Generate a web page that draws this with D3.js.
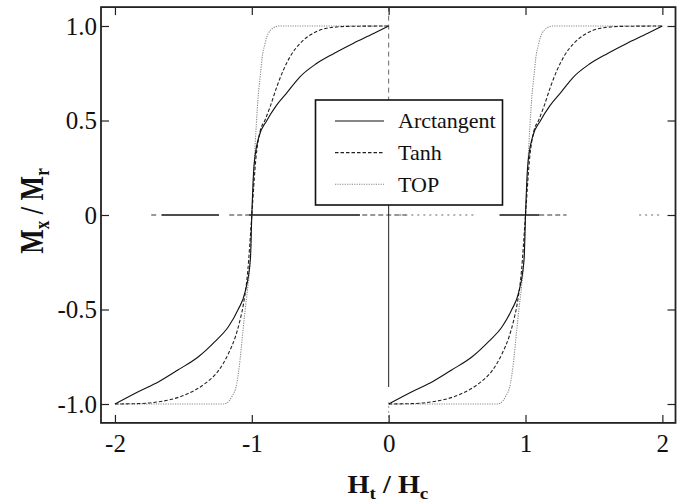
<!DOCTYPE html>
<html>
<head>
<meta charset="utf-8">
<script src="https://cdn.jsdelivr.net/npm/d3@7"></script>
<style>
  html, body { margin: 0; padding: 0; background: #fff; }
  svg { display: block; }
  text { font-family: "Liberation Serif", "Times New Roman", serif; fill: #111; }
</style>
</head>
<body>
<svg id="chart" width="685" height="504"></svg>
<script>
// ---------------- data ----------------
// Each loop branch is centred on +/- 1 (H_t/H_c); u = offset from the branch centre.
const branchCenters = [-1, 1];

const arctanU = [-1, -0.83, -0.68, -0.54, -0.39, -0.27, -0.17, -0.10, -0.05, -0.01, 0, 0.015, 0.05, 0.11, 0.18, 0.26, 0.35, 0.47, 0.60, 0.74, 0.89, 1];
const arctanM = [-1, -0.935, -0.882, -0.82, -0.75, -0.67, -0.59, -0.50, -0.41, -0.23, 0, 0.25, 0.41, 0.50, 0.58, 0.65, 0.73, 0.80, 0.855, 0.908, 0.96, 1];

const tanhU = [-1, -0.8, -0.68, -0.585, -0.46, -0.34, -0.24, -0.17, -0.12, -0.086, -0.06, -0.03, 0, 0.03, 0.06, 0.097, 0.134, 0.183, 0.231, 0.28, 0.353, 0.426, 0.548, 0.70, 1];
const tanhM = [-1, -0.997, -0.988, -0.975, -0.943, -0.891, -0.82, -0.732, -0.644, -0.556, -0.467, -0.30, 0, 0.30, 0.44, 0.503, 0.573, 0.679, 0.767, 0.838, 0.908, 0.952, 0.988, 0.998, 1];

const topU = [-1, -0.2, -0.183, -0.146, -0.11, -0.086, -0.069, -0.049, -0.029, -0.012, 0, 0.015, 0.033, 0.048, 0.061, 0.075, 0.097, 0.11, 0.121, 0.158, 0.2, 1];
const topM = [-1, -1, -0.995, -0.961, -0.891, -0.767, -0.644, -0.503, -0.379, -0.238, 0, 0.238, 0.48, 0.64, 0.73, 0.83, 0.908, 0.943, 0.961, 0.99, 1, 1];

const seriesNames = ["Arctangent", "Tanh", "TOP"];

// broken zero reference lines (H_t/H_c ranges at M = 0, and M ranges at H = 0)
const zeroSolid = [[-1.66, -1.24], [-1.02, -0.21], [0.81, 1.10]];
const zeroBroken = [[-1.735, -1.676], [-1.165, -1.02], [-0.193, 0.129], [1.10, 1.30]];
const zeroDotted = [[0.078, 0.64], [1.83, 2.0]];
const vertDashed = [[0.6, 1.1]];
const vertSolid = [[-0.91, 0.6]];
const vertDotted = [[-1.1, -0.99]];

const xTicks = [-2, -1, 0, 1, 2];
const xTickLabels = ["-2", "-1", "0", "1", "2"];
const yTicks = [1.0, 0.5, 0, -0.5, -1.0];
const yTickLabels = ["1.0", "0.5", "0", "-0.5", "-1.0"];

// ---------------- drawing ----------------
const FONT = '"Liberation Serif", "Times New Roman", serif';
const svg = d3.select("#chart");
const L = 101, R = 675.5, T = 7.1, B = 422.9;

const x = d3.scaleLinear().domain([-2.102, 2.096]).range([L, R]);
const y = d3.scaleLinear().domain([-1.1, 1.1]).range([B, T]);

const plot = svg.append("g");

function segsH(arr, style) {
  plot.selectAll(null).data(arr).enter().append("line")
    .attr("x1", d => x(d[0])).attr("x2", d => x(d[1]))
    .attr("y1", y(0)).attr("y2", y(0))
    .attr("stroke", style.c).attr("stroke-width", style.w)
    .attr("stroke-dasharray", style.d);
}
function segsV(arr, style) {
  plot.selectAll(null).data(arr).enter().append("line")
    .attr("x1", x(0)).attr("x2", x(0))
    .attr("y1", d => y(d[0])).attr("y2", d => y(d[1]))
    .attr("stroke", style.c).attr("stroke-width", style.w)
    .attr("stroke-dasharray", style.d);
}
segsH(zeroSolid, {c: "#111", w: 1.3, d: null});
segsH(zeroBroken, {c: "#333", w: 1.2, d: "5,3"});
segsH(zeroDotted, {c: "#666", w: 1.1, d: "2,4"});
segsV(vertDashed, {c: "#666", w: 1, d: "5,4"});
segsV(vertSolid, {c: "#222", w: 1, d: null});
segsV(vertDotted, {c: "#999", w: 1, d: "2,3"});

// curves
const styles = [
  {c: "#111", w: 1.1, d: null},
  {c: "#222", w: 1.1, d: "3.5,2"},
  {c: "#888", w: 1.1, d: "1.2,1.2"}
];
const seriesU = [arctanU, tanhU, topU];
const seriesM = [arctanM, tanhM, topM];
const line = d3.line().x(d => x(d[0])).y(d => y(d[1])).curve(d3.curveMonotoneX);

[2, 1, 0].forEach(i => {
  branchCenters.forEach(c => {
    const pts = seriesU[i].map((u, k) => [c + u, seriesM[i][k]]);
    plot.append("path").attr("d", line(pts))
      .attr("fill", "none").attr("stroke", styles[i].c)
      .attr("stroke-width", styles[i].w)
      .attr("stroke-dasharray", styles[i].d);
  });
});

// axes (inward ticks on all four sides)
const tickLen = 8;
const gx = svg.append("g").attr("transform", `translate(0,${B})`)
  .call(d3.axisBottom(x).tickValues(xTicks).tickSizeInner(-tickLen).tickSizeOuter(0)
    .tickFormat((d, i) => xTickLabels[i]));
gx.selectAll("text").attr("y", 0).attr("dy", 29).style("font-size", "25px")
  .style("font-family", FONT).attr("fill", "#111");

const gxt = svg.append("g").attr("transform", `translate(0,${T})`)
  .call(d3.axisTop(x).tickValues(xTicks).tickSizeInner(-tickLen).tickSizeOuter(0).tickFormat(""));

const gy = svg.append("g").attr("transform", `translate(${L},0)`)
  .call(d3.axisLeft(y).tickValues(yTicks).tickSizeInner(-tickLen).tickSizeOuter(0)
    .tickFormat((d, i) => yTickLabels[i]));
gy.selectAll("text").attr("x", -4).attr("dy", "0.33em").style("font-size", "25px")
  .style("font-family", FONT).attr("fill", "#111");

const gyr = svg.append("g").attr("transform", `translate(${R},0)`)
  .call(d3.axisRight(y).tickValues(yTicks).tickSizeInner(-tickLen).tickSizeOuter(0).tickFormat(""));

[gx, gxt, gy, gyr].forEach(g => {
  g.select(".domain").remove();
  g.selectAll(".tick line").attr("stroke", "#222").attr("stroke-width", 1.2);
});

// frame
svg.append("rect").attr("x", L).attr("y", T).attr("width", R - L).attr("height", B - T)
  .attr("fill", "none").attr("stroke", "#222").attr("stroke-width", 1.8);

// legend
const lg = svg.append("g");
lg.append("rect").attr("x", 315.5).attr("y", 100).attr("width", 187).attr("height", 105)
  .attr("fill", "#fff").attr("stroke", "#111").attr("stroke-width", 1.6);
seriesNames.forEach((name, i) => {
  const yy = 121 + i * 31.6;
  lg.append("line").attr("x1", 335).attr("x2", 384).attr("y1", yy).attr("y2", yy)
    .attr("stroke", styles[i].c).attr("stroke-width", styles[i].w)
    .attr("stroke-dasharray", styles[i].d);
  lg.append("text").attr("x", 398).attr("y", yy + 7.3)
    .style("font-family", FONT).style("font-size", "22px").text(name);
});

// axis titles
const xt = svg.append("text").attr("transform", "translate(388,493) scale(1.13,1)")
  .attr("text-anchor", "middle")
  .style("font-family", FONT).style("font-size", "25px").style("font-weight", "bold");
xt.append("tspan").text("H");
xt.append("tspan").attr("dy", 6).style("font-size", "17px").text("t");
xt.append("tspan").attr("dy", -6).text(" / H");
xt.append("tspan").attr("dy", 6).style("font-size", "17px").text("c");

const yt = svg.append("text").attr("transform", "translate(43,211) rotate(-90) scale(1,1.28)")
  .attr("text-anchor", "middle")
  .style("font-family", FONT).style("font-size", "26px").style("font-weight", "bold");
yt.append("tspan").text("M");
yt.append("tspan").attr("dy", 5).style("font-size", "17px").text("x");
yt.append("tspan").attr("dy", -5).text(" / M");
yt.append("tspan").attr("dy", 5).style("font-size", "17px").text("r");
</script>
</body>
</html>
